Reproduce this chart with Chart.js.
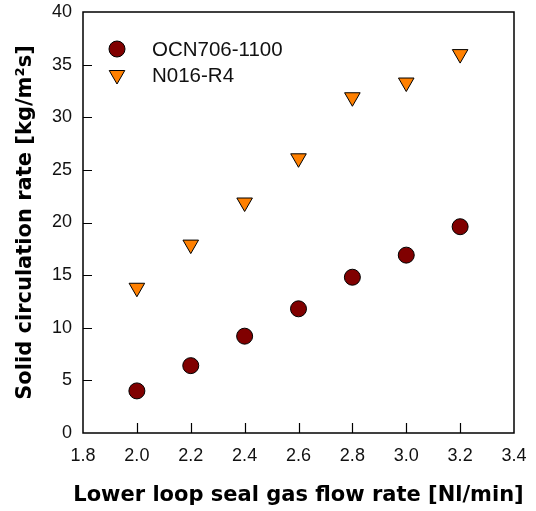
<!DOCTYPE html>
<html lang="en">
<head>
<meta charset="UTF-8">
<title>Solid circulation rate</title>
<script src="https://cdn.jsdelivr.net/npm/chart.js"></script>
<style>
    html, body {
        margin: 0;
        padding: 0;
        background: #fff;
    }
    #wrap {
        width: 536px;
        height: 511px;
    }
</style>
</head>
<body>
<div id="wrap">
    <canvas id="rateChart" width="536" height="511"></canvas>
</div>

<script>
    // gas flow rate [Nl/min]
    const flowRates = [2.0, 2.2, 2.4, 2.6, 2.8, 3.0, 3.2];
    // solid circulation rate [kg/m2s]
    const ocnRates = [4.0, 6.4, 9.2, 11.8, 14.8, 16.9, 19.6];
    const n016Rates = [13.8, 17.9, 21.9, 26.1, 31.9, 33.3, 36.0];

    const seriesNames = ['OCN706-1100', 'N016-R4'];
    const xTicks = [1.8, 2.0, 2.2, 2.4, 2.6, 2.8, 3.0, 3.2, 3.4];
    const yTicks = [0, 5, 10, 15, 20, 25, 30, 35, 40];
    const xTitle = 'Lower loop seal gas flow rate [Nl/min]';
    const yTitle = 'Solid circulation rate [kg/m²s]';

    const tickFont = { family: 'Liberation Sans, Arial, sans-serif', size: 18 };
    const yTitleFont = { family: 'DejaVu Sans, Verdana, sans-serif', size: 21, weight: 'bold' };

    function toPoints(xs, ys) {
        return xs.map((x, i) => ({ x: x, y: ys[i] }));
    }

    // frame around the plot plus short inward tick marks
    const frameAndTicks = {
        id: 'frameAndTicks',
        afterDatasetsDraw(chart) {
            const { ctx, chartArea: a, scales } = chart;
            ctx.save();
            ctx.strokeStyle = '#000';
            ctx.lineWidth = 1.5;
            ctx.strokeRect(a.left, a.top, a.right - a.left, a.bottom - a.top);
            ctx.lineWidth = 1.2;
            ctx.beginPath();
            xTicks.slice(1, -1).forEach(v => {
                const px = Math.round(scales.x.getPixelForValue(v)) + 0.5;
                ctx.moveTo(px, a.bottom);
                ctx.lineTo(px, a.bottom - 10);
            });
            yTicks.slice(1, -1).forEach(v => {
                const py = Math.round(scales.y.getPixelForValue(v)) + 0.5;
                ctx.moveTo(a.left, py);
                ctx.lineTo(a.left + 9, py);
            });
            ctx.stroke();
            ctx.restore();
        }
    };

    // x title drawn by hand: the built-in one gets squeezed to the axis width
    const wideXTitle = {
        id: 'wideXTitle',
        afterDraw(chart) {
            const { ctx, chartArea: a } = chart;
            ctx.save();
            ctx.fillStyle = '#000';
            ctx.font = 'bold 21px "DejaVu Sans", Verdana, sans-serif';
            ctx.textAlign = 'center';
            ctx.textBaseline = 'middle';
            ctx.fillText(xTitle, (a.left + a.right) / 2, a.bottom + 63);
            ctx.restore();
        }
    };

    // legend in the upper-left corner of the plot
    const cornerLegend = {
        id: 'cornerLegend',
        afterDraw(chart) {
            const { ctx, chartArea: a } = chart;
            ctx.save();
            chart.data.datasets.forEach((ds, i) => {
                const cx = a.left + 34;
                const cy = a.top + 37 + i * 26;
                ctx.fillStyle = ds.backgroundColor;
                ctx.strokeStyle = ds.borderColor;
                ctx.lineWidth = ds.borderWidth;
                Chart.helpers.drawPoint(ctx, {
                    pointStyle: ds.pointStyle,
                    radius: ds.pointRadius,
                    rotation: ds.rotation || 0,
                    borderWidth: ds.borderWidth
                }, cx, cy);
                ctx.fillStyle = '#111';
                ctx.font = '20.5px "Liberation Sans", Arial, sans-serif';
                ctx.textBaseline = 'middle';
                ctx.fillText(ds.label, a.left + 69, cy + 1);
            });
            ctx.restore();
        }
    };

    new Chart(document.getElementById('rateChart'), {
        type: 'scatter',
        data: {
            datasets: [{
                label: seriesNames[0],
                data: toPoints(flowRates, ocnRates),
                pointStyle: 'circle',
                pointRadius: 8,
                pointHoverRadius: 8,
                backgroundColor: '#800000',
                borderColor: '#000',
                borderWidth: 1
            }, {
                label: seriesNames[1],
                data: toPoints(flowRates, n016Rates),
                pointStyle: 'triangle',
                rotation: 180,
                pointRadius: 9,
                pointHoverRadius: 9,
                backgroundColor: '#ff8000',
                borderColor: '#000',
                borderWidth: 1
            }]
        },
        options: {
            responsive: false,
            animation: false,
            layout: { padding: { top: 12, right: 22, left: 0, bottom: 0 } },
            plugins: {
                legend: { display: false },
                tooltip: { enabled: false }
            },
            scales: {
                x: {
                    type: 'linear',
                    min: 1.8,
                    max: 3.4,
                    afterBuildTicks: s => { s.ticks = xTicks.map(v => ({ value: v })); },
                    afterFit: s => {
                        s.height = 78;
                        s.paddingLeft = 0;
                        s.paddingRight = 0;
                    },
                    grid: { display: false, drawTicks: false },
                    border: { display: false },
                    ticks: {
                        font: tickFont,
                        color: '#111',
                        padding: 12,
                        maxRotation: 0,
                        callback: v => v.toFixed(1)
                    },
                    title: { display: false }
                },
                y: {
                    type: 'linear',
                    min: 0,
                    max: 40,
                    afterBuildTicks: s => { s.ticks = yTicks.map(v => ({ value: v })); },
                    afterFit: s => {
                        s.width = 83;
                        s.paddingTop = 0;
                        s.paddingBottom = 0;
                    },
                    grid: { display: false, drawTicks: false },
                    border: { display: false },
                    ticks: {
                        font: tickFont,
                        color: '#111',
                        padding: 11
                    },
                    title: {
                        display: true,
                        text: yTitle,
                        font: yTitleFont,
                        color: '#000',
                        padding: { top: 13, bottom: 0 }
                    }
                }
            }
        },
        plugins: [frameAndTicks, wideXTitle, cornerLegend]
    });
</script>
</body>
</html>
